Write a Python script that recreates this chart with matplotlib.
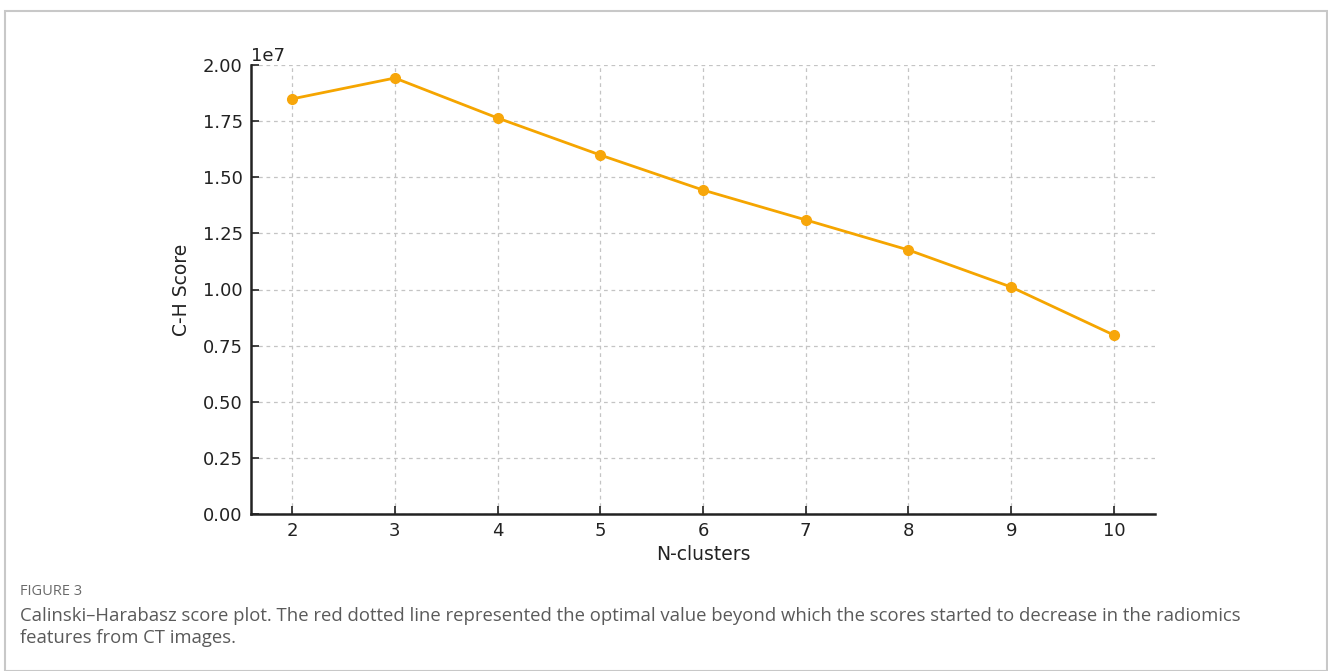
import matplotlib
matplotlib.use("Agg")
import matplotlib.pyplot as plt
from matplotlib.patches import Rectangle

plt.rcParams["font.family"] = ["DejaVu Sans"]

# Calinski-Harabasz score per number of clusters
n_clusters = [2, 3, 4, 5, 6, 7, 8, 9, 10]
ch_scores = [1.849e7, 1.942e7, 1.764e7, 1.599e7, 1.443e7, 1.310e7, 1.176e7, 1.011e7, 0.797e7]
y_ticks = [0.0, 0.25e7, 0.5e7, 0.75e7, 1.0e7, 1.25e7, 1.5e7, 1.75e7, 2.0e7]

W, H = 1328, 671
fig = plt.figure(figsize=(W / 100, H / 100), dpi=100)
fig.patch.set_facecolor("white")

# Panel frame
frame = Rectangle((4.5 / W, 0), (1326.5 - 4.5) / W, (H - 10.5) / H,
                  transform=fig.transFigure, fill=False,
                  edgecolor="#c8c8c8", linewidth=1.5, zorder=0)
fig.patches.append(frame)

ax = fig.add_axes([251 / W, 1 - 514 / H, (1155 - 251) / W, (514 - 65) / H])
ax.plot(n_clusters, ch_scores, color="#F5A500", linewidth=2,
        marker="o", markersize=7, markerfacecolor="#F7A60A",
        markeredgecolor="#F7A60A")

ax.set_xlim(1.6, 10.4)
ax.set_ylim(0, 2.0e7)
ax.set_xticks(n_clusters)
ax.set_yticks(y_ticks)

ax.grid(True, linestyle=(0, (3, 3)), color="#c4c4c4", linewidth=0.9)
ax.set_axisbelow(True)

for side in ("top", "right"):
    ax.spines[side].set_visible(False)
for side in ("left", "bottom"):
    ax.spines[side].set_color("#222222")
    ax.spines[side].set_linewidth(1.8)

ax.tick_params(direction="in", length=6, width=1.2, colors="#222222",
               labelsize=13, pad=6)
ax.yaxis.get_offset_text().set_fontsize(13)

ax.set_xlabel("N-clusters", fontsize=13.5, color="#222222", labelpad=3)
ax.set_ylabel("C-H Score", fontsize=13.5, color="#222222", labelpad=8)

# Caption
cap_x = 20 / W
fig.text(cap_x, 1 - 595 / H, "FIGURE 3", fontsize=10.5, color="#6a6a6a",
         family="Open Sans", va="baseline", ha="left")
fig.text(cap_x, 1 - 621 / H,
         "Calinski\u2013Harabasz score plot. The red dotted line represented the optimal value "
         "beyond which the scores started to decrease in the radiomics",
         fontsize=13.3, color="#5a5a5a", family="Open Sans", va="baseline", ha="left")
fig.text(cap_x, 1 - 643 / H, "features from CT images.",
         fontsize=13.3, color="#5a5a5a", family="Open Sans", va="baseline", ha="left")

fig.savefig("out.png", dpi=100, facecolor="white")
